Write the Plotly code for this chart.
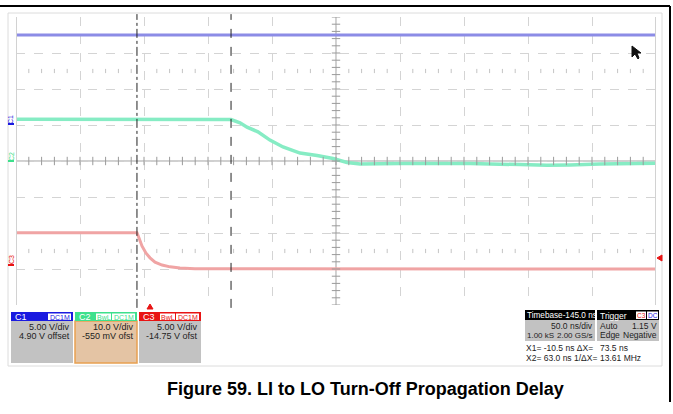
import plotly.graph_objects as go

# screen geometry of the scope grid (pixels inside the 673x414 page)
W, H = 673, 414
L, R, T, B = 16, 656, 17, 305

# time in ns, amplitude in screen divisions
c1_time = [-105, 0, 150, 240, 300, 395]
c1_div = [3.5, 3.5, 3.5, 3.52, 3.5, 3.5]

c2_time = [-105, 63, 70, 75.5, 84, 93.4, 103.6, 116.9, 130.2, 142.7, 153.6,
           163.8, 195, 249.7, 288.8, 309.8, 327.8, 351, 395]
c2_div = [1.16, 1.15, 1.06, 0.94, 0.81, 0.58, 0.39, 0.22, 0.15, 0.07, -0.04,
          -0.08, -0.07, -0.07, -0.1, -0.12, -0.11, -0.08, -0.06]

c3_time = [-105, -10.5, -8.9, -6.6, -3.4, -0.3, 3.6, 9.1, 15.3, 23.1, 34.8, 395]
c3_div = [-1.99, -1.99, -2.14, -2.36, -2.56, -2.69, -2.81, -2.89, -2.94,
          -2.97, -2.99, -3.0]

cursor_x1 = -10.5
cursor_x2 = 63.0
t_left, t_right = -105, 395
ns_per_div = 50


def px(x):
    return (x - L) / (R - L)


def py(y):
    return (B - y) / (B - T)


fig = go.Figure()

fig.add_trace(go.Scatter(x=c1_time, y=c1_div, mode="lines",
                         line=dict(color="#8c8ce6", width=3)))
fig.add_trace(go.Scatter(x=c2_time, y=c2_div, mode="lines",
                         line=dict(color="#86ecc4", width=3.5)))
fig.add_trace(go.Scatter(x=c3_time, y=c3_div, mode="lines",
                         line=dict(color="#f0a4a4", width=3)))

# small ticks on the centre cross and dotted rows
tick_x, tick_y = [], []
for k in range(50):
    t = t_left + k * ns_per_div / 5
    tick_x.append(t)
    tick_y.append(0)
center_t = t_left + 5 * ns_per_div
vt_x, vt_y = [], []
for k in range(-20, 21):
    vt_x.append(center_t)
    vt_y.append(k / 5)
dot_x, dot_y = [], []
for d in range(10):
    for s in range(1, 5):
        for yy in (2.5, -2.5):
            dot_x.append(t_left + d * ns_per_div + s * ns_per_div / 5)
            dot_y.append(yy)

fig.add_trace(go.Scatter(x=tick_x, y=tick_y, mode="markers",
                         marker=dict(symbol="line-ns", size=6,
                                     line=dict(color="#9a9a9a", width=1))))
fig.add_trace(go.Scatter(x=vt_x, y=vt_y, mode="markers",
                         marker=dict(symbol="line-ew", size=6,
                                     line=dict(color="#9a9a9a", width=1))))
fig.add_trace(go.Scatter(x=dot_x, y=dot_y, mode="markers",
                         marker=dict(symbol="line-ns", size=3,
                                     line=dict(color="#c4c4c4", width=1))))

shapes = []
# centre cross
shapes.append(dict(type="line", xref="x", yref="y", x0=t_left, x1=t_right,
                   y0=0, y1=0, line=dict(color="#a0a0a0", width=1), layer="below"))
shapes.append(dict(type="line", xref="x", yref="y", x0=center_t, x1=center_t,
                   y0=-4, y1=4, line=dict(color="#a0a0a0", width=1), layer="below"))
# grid side borders
for xx in (t_left, t_right):
    shapes.append(dict(type="line", xref="x", yref="paper", x0=xx, x1=xx,
                       y0=0, y1=1, line=dict(color="#d2d2d2", width=2)))
# cursors
shapes.append(dict(type="line", xref="x", yref="paper", x0=cursor_x1, x1=cursor_x1,
                   y0=-0.01, y1=1.01, line=dict(color="#222", width=1, dash="dashdot")))
shapes.append(dict(type="line", xref="x", yref="paper", x0=cursor_x2, x1=cursor_x2,
                   y0=-0.01, y1=1.01, line=dict(color="#222", width=1, dash="dash")))


def rect(x0, y0, x1, y1, fill, line="rgba(0,0,0,0)", lw=0):
    shapes.append(dict(type="rect", xref="paper", yref="paper",
                       x0=px(x0), x1=px(x1), y0=py(y1), y1=py(y0),
                       fillcolor=fill, line=dict(color=line, width=lw)))


def pline(x0, y0, x1, y1, color, width=1):
    shapes.append(dict(type="line", xref="paper", yref="paper",
                       x0=px(x0), x1=px(x1), y0=py(y0), y1=py(y1),
                       line=dict(color=color, width=width)))


def tri(pts, color):
    p = "M " + " L ".join(f"{px(a)},{py(b)}" for a, b in pts) + " Z"
    shapes.append(dict(type="path", xref="paper", yref="paper", path=p,
                       fillcolor=color, line=dict(color=color, width=1)))


# outer black frame and light scope panel
pline(0, 6, 670, 6, "#000", 2)
pline(670, 6, 670, 402, "#000", 2)
rect(8, 13, 662, 366, "rgba(0,0,0,0)", "#dcdcdc", 1)

ann = []


def text(x, y, s, color="#222", size=9, anchor="left", bold=False, angle=0):
    ann.append(dict(xref="paper", yref="paper", x=px(x), y=py(y), text=s,
                    showarrow=False, xanchor=anchor, yanchor="middle",
                    textangle=angle, borderpad=0,
                    font=dict(family="Liberation Sans, Arial", size=size, color=color,
                              weight="bold" if bold else "normal")))


# channel boxes
boxes = [
    (11, "C1", "#1a1ae0", "#c2c2c2", None, ["DC1M"], "5.00 V/div", "4.90 V offset"),
    (75, "C2", "#3ee08c", "#e4c4a4", "#e8a050", ["BwL", "DC1M"], "10.0 V/div", "-550 mV ofst"),
    (139, "C3", "#e81414", "#c2c2c2", None, ["BwL", "DC1M"], "5.00 V/div", "-14.75 V ofst"),
]
for x0, name, hc, bc, border, tags, l1, l2 in boxes:
    x1 = x0 + 62
    if border:
        rect(x0, 321, x1, 363, bc, border, 1.5)
    else:
        rect(x0, 321, x1, 363, bc)
    rect(x0, 312, x1, 321, hc)
    text(x0 + 3, 316.5, name, "white", 9)
    xr = x1 - 2
    for tag in reversed(tags):
        w = 23 if tag == "DC1M" else 15
        rect(xr - w, 313.5, xr, 320, "white")
        text(xr - w / 2, 317, tag, hc, 7, "center")
        xr -= w + 1
    text(x1 - 2, 327, l1, "#222", 9, "right")
    text(x1 - 2, 336, l2, "#222", 9, "right")

# timebase / trigger boxes
rect(525, 310, 595, 320, "#000")
rect(525, 320, 595, 341, "#c2c2c2")
text(526, 315.5, "Timebase-145.0 ns", "white", 8.2)
text(594, 326, "50.0 ns/div", "#222", 8.5, "right")
text(526, 335, "1.00 kS", "#222", 8)
text(594, 335, "2.00 GS/s", "#222", 8, "right")
rect(597, 310, 659, 320, "#000")
rect(597, 320, 659, 341, "#c2c2c2")
text(599, 315.5, "Trigger", "white", 8.5)
rect(636, 311.5, 646, 319, "white")
rect(647, 311.5, 658, 319, "white")
text(641, 315.5, "C3", "#e81414", 6.5, "center")
text(652.5, 315.5, "DC", "#1a1ae0", 6.5, "center")
text(599, 326, "Auto", "#222", 8.5)
text(658, 326, "1.15 V", "#222", 8.5, "right")
text(599, 335, "Edge", "#222", 8.5)
text(658, 335, "Negative", "#222", 8.5, "right")
text(525, 348, "X1= -10.5 ns ΔX=", "#222", 8.5)
text(599, 348, "73.5 ns", "#222", 8.5)
text(525, 358, "X2= 63.0 ns 1/ΔX=", "#222", 8.5)
text(599, 358, "13.61 MHz", "#222", 8.5)

# ground / trigger markers
text(11, 120, "C1", "#1a1ae0", 7, "center", angle=-90)
pline(8, 124, 14, 124, "#1a1ae0", 2)
text(11, 157, "C2", "#3ee08c", 7, "center", angle=-90)
pline(8, 161, 14, 161, "#3ee08c", 2)
text(11, 260, "C3", "#e81414", 7, "center", angle=-90)
pline(8, 265, 14, 265, "#e81414", 2)
tri([(147, 309), (153, 309), (150, 304)], "#e81414")
tri([(657, 258), (662, 255), (662, 261)], "#e81414")
# mouse pointer
tri([(632, 46), (632, 57), (635, 54), (638, 59), (639, 58), (637, 53), (641, 53)], "#111")

# caption
text(365, 389, "Figure 59. LI to LO Turn-Off Propagation Delay", "#000", 18, "center", bold=True)

fig.update_layout(
    width=W, height=H, autosize=False,
    margin=dict(l=L, r=W - R, t=T, b=H - B),
    paper_bgcolor="white", plot_bgcolor="white",
    showlegend=False,
    shapes=shapes, annotations=ann,
    xaxis=dict(range=[t_left, t_right], tick0=t_left, dtick=ns_per_div,
               showgrid=True, gridcolor="#d4d4d4", griddash="dash", gridwidth=1,
               showticklabels=False, zeroline=False, showline=False, ticks=""),
    yaxis=dict(range=[-4, 4], tick0=-4, dtick=1,
               showgrid=True, gridcolor="#d4d4d4", griddash="dash", gridwidth=1,
               showticklabels=False, zeroline=False, showline=False, ticks=""),
)

# drop the default page margin so the figure sits at the window's corner
fig.write_html("out.html", config={"displayModeBar": False},
               post_script="document.body.style.margin='0px';document.body.style.overflow='hidden';")
